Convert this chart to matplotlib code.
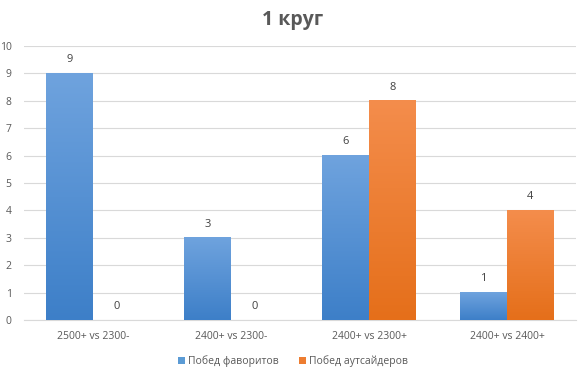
import numpy as np
import matplotlib.pyplot as plt
from matplotlib.colors import LinearSegmentedColormap

categories = ["2500+ vs 2300-", "2400+ vs 2300-", "2400+ vs 2300+", "2400+ vs 2400+"]
favorites = [9, 3, 6, 1]
outsiders = [0, 0, 8, 4]
series_names = ["Побед фаворитов", "Побед аутсайдеров"]

plt.rcParams['font.family'] = ['Open Sans', 'DejaVu Sans']

fig = plt.figure(figsize=(5.86, 3.8), dpi=100)
ax = fig.add_axes([0.041, 0.158, 0.942, 0.721])

x = np.arange(len(categories))
w = 0.34

# gradient colours (top -> bottom)
blue_cm = LinearSegmentedColormap.from_list("b", ["#3d7fc8", "#6fa3de"])
orange_cm = LinearSegmentedColormap.from_list("o", ["#e56f1a", "#f48d4c"])
grad = np.linspace(0, 1, 256).reshape(-1, 1)

def draw_bars(xs, vals, cmap, solid, label):
    bars = ax.bar(xs, vals, width=w, color=solid, label=label, zorder=2)
    for b in bars:
        h = b.get_height()
        if h <= 0:
            continue
        x0 = b.get_x()
        ax.imshow(grad, extent=[x0, x0 + b.get_width(), 0, h], origin="lower",
                  aspect="auto", cmap=cmap, zorder=3)
    for xi, v in zip(xs, vals):
        ax.text(xi, v + 0.3, str(v), ha="center", va="bottom", fontsize=8, color="#404040")

draw_bars(x - w / 2, favorites, blue_cm, "#5b9bd5", series_names[0])
draw_bars(x + w / 2, outsiders, orange_cm, "#ed7d31", series_names[1])

ax.set_xlim(-0.5, len(categories) - 0.5)
ax.set_ylim(0, 10)
ax.set_yticks(range(0, 11))
ax.set_xticks(x)
ax.set_xticklabels(categories)
ax.tick_params(axis="both", length=0, labelsize=7.5, colors="#595959")
ax.tick_params(axis="x", pad=8)
ax.tick_params(axis="y", pad=9)
ax.grid(axis="y", color="#d9d9d9", linewidth=0.8, zorder=0)
ax.set_axisbelow(True)
for s in ["top", "right", "left"]:
    ax.spines[s].set_visible(False)
ax.spines["bottom"].set_color("#d9d9d9")

fig.suptitle("1 круг", x=0.5, y=0.975, fontsize=14, fontweight="bold", color="#595959")

leg = fig.legend(loc="center", bbox_to_anchor=(0.5, 0.05), ncol=2, frameon=False,
                 fontsize=7.5, handlelength=0.6, handleheight=0.6, handletextpad=0.3,
                 columnspacing=2.0)
for t in leg.get_texts():
    t.set_color("#595959")

plt.savefig("out.png", dpi=100)
